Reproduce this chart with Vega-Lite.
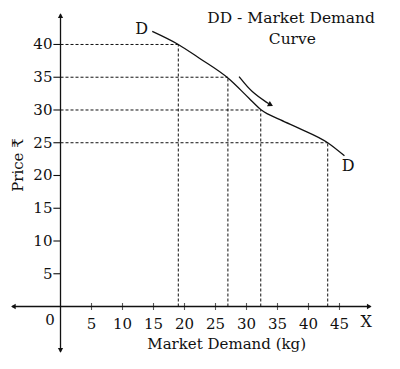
{
  "$schema": "https://vega.github.io/schema/vega-lite/v6.json",
  "width": 400,
  "height": 369,
  "padding": 0,
  "autosize": {"type": "none"},
  "background": "#ffffff",
  "config": {"view": {"stroke": null}},
  "datasets": {
    "guides": [
      {"x1": 0, "x2": 19, "y1": 40, "y2": 40},
      {"x1": 0, "x2": 27, "y1": 35, "y2": 35},
      {"x1": 0, "x2": 32.3, "y1": 30, "y2": 30},
      {"x1": 0, "x2": 43.1, "y1": 25, "y2": 25},
      {"x1": 19, "x2": 19, "y1": 0, "y2": 40},
      {"x1": 27, "x2": 27, "y1": 0, "y2": 35},
      {"x1": 32.3, "x2": 32.3, "y1": 0, "y2": 30},
      {"x1": 43.1, "x2": 43.1, "y1": 0, "y2": 25}
    ],
    "curve": [
      {"q": 14.8, "p": 42.0},
      {"q": 19, "p": 40},
      {"q": 22.4, "p": 37.9},
      {"q": 27.1, "p": 34.8},
      {"q": 30.4, "p": 31.8},
      {"q": 32.4, "p": 30.0},
      {"q": 35.5, "p": 28.5},
      {"q": 38.5, "p": 27.2},
      {"q": 43.1, "p": 25.0},
      {"q": 45.8, "p": 23.0}
    ],
    "arrow": [
      {"q": 28.8, "p": 35.1},
      {"q": 30.8, "p": 32.7},
      {"q": 33.6, "p": 30.95}
    ],
    "axes": [
      {"x1": -7.8, "x2": 50.0, "y1": 0, "y2": 0},
      {"x1": 0, "x2": 0, "y1": -6.9, "y2": 44.6}
    ],
    "heads": [
      {"x": -7.6, "y": 0, "s": "triangle-left"},
      {"x": 49.8, "y": 0, "s": "triangle-right"},
      {"x": 0, "y": 44.4, "s": "triangle-up"},
      {"x": 0, "y": -6.7, "s": "triangle-down"}
    ],
    "xticks": [
      {"v": 5, "t": "5"}, {"v": 10, "t": "10"}, {"v": 15, "t": "15"},
      {"v": 20, "t": "20"}, {"v": 25, "t": "25"}, {"v": 30, "t": "30"},
      {"v": 35, "t": "35"}, {"v": 40, "t": "40"}, {"v": 45, "t": "45"}
    ],
    "yticks": [
      {"v": 5, "t": "5"}, {"v": 10, "t": "10"}, {"v": 15, "t": "15"},
      {"v": 20, "t": "20"}, {"v": 25, "t": "25"}, {"v": 30, "t": "30"},
      {"v": 35, "t": "35"}, {"v": 40, "t": "40"}
    ],
    "labels": [
      {"x": 13.1, "y": 42.4, "t": "D", "size": 16},
      {"x": 46.4, "y": 21.5, "t": "D", "size": 16},
      {"x": -1.7, "y": -2.1, "t": "0", "size": 15},
      {"x": 49.3, "y": -2.4, "t": "X", "size": 16},
      {"x": 37.2, "y": 44.05, "t": "DD - Market Demand", "size": 15.5},
      {"x": 37.4, "y": 40.9, "t": "Curve", "size": 15.5},
      {"x": 26.8, "y": -5.75, "t": "Market Demand (kg)", "size": 15}
    ]
  },
  "layer": [
    {
      "data": {"name": "guides"},
      "mark": {"type": "rule", "color": "#111", "strokeWidth": 1, "strokeDash": [3, 2]},
      "encoding": {
        "x": {"field": "x1", "type": "quantitative", "scale": {"domain": [-9.76, 54.76], "nice": false, "zero": false}, "axis": null},
        "x2": {"field": "x2"},
        "y": {"field": "y1", "type": "quantitative", "scale": {"domain": [-9.54, 46.79], "nice": false, "zero": false}, "axis": null},
        "y2": {"field": "y2"}
      }
    },
    {
      "data": {"name": "axes"},
      "mark": {"type": "rule", "color": "#111", "strokeWidth": 1.3},
      "encoding": {
        "x": {"field": "x1", "type": "quantitative"},
        "x2": {"field": "x2"},
        "y": {"field": "y1", "type": "quantitative"},
        "y2": {"field": "y2"}
      }
    },
    {
      "data": {"name": "heads"},
      "mark": {"type": "point", "filled": true, "color": "#111", "size": 28, "opacity": 1},
      "encoding": {
        "x": {"field": "x", "type": "quantitative"},
        "y": {"field": "y", "type": "quantitative"},
        "shape": {"field": "s", "type": "nominal", "scale": null, "legend": null}
      }
    },
    {
      "data": {"name": "xticks"},
      "mark": {"type": "tick", "orient": "vertical", "color": "#111", "size": 7, "thickness": 1.1},
      "encoding": {
        "x": {"field": "v", "type": "quantitative"},
        "y": {"datum": 0, "type": "quantitative"}
      }
    },
    {
      "data": {"name": "xticks"},
      "mark": {"type": "text", "font": "DejaVu Serif", "fontSize": 15, "color": "#111", "baseline": "middle", "align": "center"},
      "encoding": {
        "x": {"field": "v", "type": "quantitative"},
        "y": {"datum": -2.6, "type": "quantitative"},
        "text": {"field": "t"}
      }
    },
    {
      "data": {"name": "yticks"},
      "mark": {"type": "rule", "color": "#111", "strokeWidth": 1.1},
      "encoding": {
        "x": {"datum": -1.15, "type": "quantitative"},
        "x2": {"datum": 0},
        "y": {"field": "v", "type": "quantitative"}
      }
    },
    {
      "data": {"name": "yticks"},
      "mark": {"type": "text", "font": "DejaVu Serif", "fontSize": 15, "color": "#111", "baseline": "middle", "align": "right"},
      "encoding": {
        "x": {"datum": -1.3, "type": "quantitative"},
        "y": {"field": "v", "type": "quantitative"},
        "text": {"field": "t"}
      }
    },
    {
      "data": {"name": "curve"},
      "mark": {"type": "line", "color": "#111", "strokeWidth": 1.3, "interpolate": "monotone"},
      "encoding": {
        "x": {"field": "q", "type": "quantitative"},
        "y": {"field": "p", "type": "quantitative"},
        "order": {"field": "q"}
      }
    },
    {
      "data": {"name": "arrow"},
      "mark": {"type": "line", "color": "#111", "strokeWidth": 1.3, "interpolate": "basis"},
      "encoding": {
        "x": {"field": "q", "type": "quantitative"},
        "y": {"field": "p", "type": "quantitative"},
        "order": {"field": "q"}
      }
    },
    {
      "data": {"values": [{"q": 33.9, "p": 30.8}]},
      "mark": {"type": "point", "shape": "triangle-right", "filled": true, "color": "#111", "size": 36, "angle": 28, "opacity": 1},
      "encoding": {
        "x": {"field": "q", "type": "quantitative"},
        "y": {"field": "p", "type": "quantitative"}
      }
    },
    {
      "data": {"name": "labels"},
      "mark": {"type": "text", "font": "DejaVu Serif", "color": "#111", "baseline": "middle", "align": "center"},
      "encoding": {
        "x": {"field": "x", "type": "quantitative"},
        "y": {"field": "y", "type": "quantitative"},
        "text": {"field": "t"},
        "size": {"field": "size", "type": "quantitative", "scale": null}
      }
    },
    {
      "data": {"values": [{"x": -6.85, "y": 21.6, "t": "Price ₹"}]},
      "mark": {"type": "text", "font": "DejaVu Serif", "fontSize": 15, "color": "#111", "baseline": "middle", "align": "center", "angle": 270},
      "encoding": {
        "x": {"field": "x", "type": "quantitative"},
        "y": {"field": "y", "type": "quantitative"},
        "text": {"field": "t"}
      }
    }
  ]
}
